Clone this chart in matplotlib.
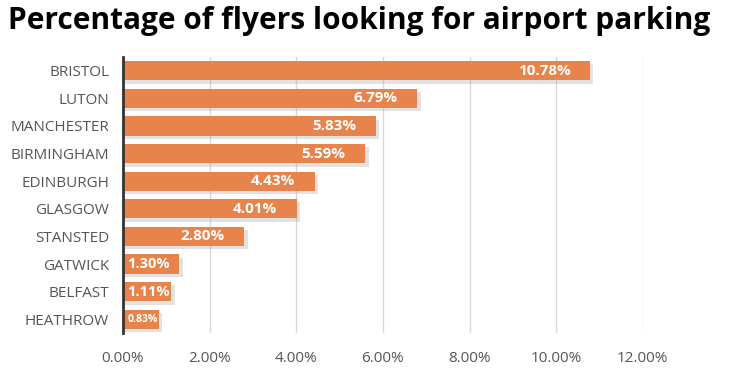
import numpy as np
import matplotlib.pyplot as plt

airports = ["BRISTOL", "LUTON", "MANCHESTER", "BIRMINGHAM", "EDINBURGH",
            "GLASGOW", "STANSTED", "GATWICK", "BELFAST", "HEATHROW"]
share = [10.78, 6.79, 5.83, 5.59, 4.43, 4.01, 2.80, 1.30, 1.11, 0.83]
xticks = [0, 2, 4, 6, 8, 10, 12]

plt.rcParams['font.family'] = ['Open Sans', 'DejaVu Sans']

fig = plt.figure(figsize=(7.5, 3.75), dpi=100)
ax = fig.add_axes([0.164, 0.112, 0.693, 0.736])

y = np.arange(len(airports))
# soft shadow under each bar
ax.barh(y + 0.12, np.array(share) + 0.08, height=0.7, color='#a0a0a0', alpha=0.3, zorder=2)
ax.barh(y, share, height=0.7, color='#E8844B', zorder=3)

for yi, v in zip(y, share):
    if v < 1:
        ax.text(0.1, yi, f"{v:.2f}%", ha='left', va='center', color='white',
                fontsize=7.5, fontweight='bold', zorder=4)
    elif v < 2:
        ax.text(0.1, yi, f"{v:.2f}%", ha='left', va='center', color='white',
                fontsize=10.5, fontweight='bold', zorder=4)
    else:
        ax.text(v - 0.45, yi, f"{v:.2f}%", ha='right', va='center', color='white',
                fontsize=11, fontweight='bold', zorder=4)

ax.set_ylim(len(airports) - 0.5, -0.5)
ax.set_xlim(0, 12)
ax.set_yticks(y)
ax.set_yticklabels(airports, fontsize=11, color='#555555')
ax.set_xticks(xticks)
ax.set_xticklabels([f"{t:.2f}%" for t in xticks], fontsize=11, color='#555555')
ax.tick_params(axis='y', length=0, pad=10)
ax.tick_params(axis='x', length=0, pad=13)
ax.grid(axis='x', color='#d9d9d9', linewidth=1, zorder=0)
for s in ['top', 'right', 'bottom']:
    ax.spines[s].set_visible(False)
ax.spines['left'].set_color('#333333')
ax.spines['left'].set_linewidth(2)
ax.spines['left'].set_zorder(5)

fig.text(0.011, 0.945, "Percentage of flyers looking for airport parking",
         fontsize=21.5, fontweight='bold', color='black', ha='left', va='center')

fig.savefig("out.png", dpi=100)
